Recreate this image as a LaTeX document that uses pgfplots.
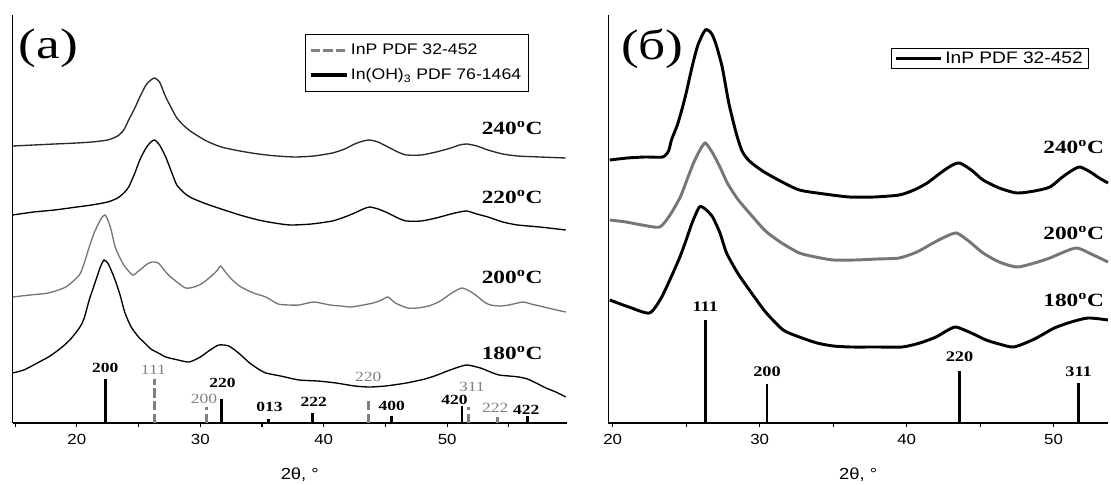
\documentclass[border=0pt]{standalone}
\usepackage{fontspec}
\setmainfont{Liberation Serif}[FakeStretch=1.25]
\setsansfont{Liberation Sans}[FakeStretch=1.15]
\usepackage{pgfplots}
\pgfplotsset{compat=1.18}
\definecolor{grayc}{RGB}{118,118,118}
\definecolor{grays}{RGB}{128,128,128}
\definecolor{dark}{RGB}{40,40,40}
\pgfplotsset{
  xrdaxis/.style={
    scale only axis, anchor=south west, clip=false,
    axis x line=bottom, axis y line=left, axis line style={-, line width=0.9pt},
    ymin=0, ymax=408, ytick=\empty,
    tick align=outside, major tick length=3pt,
    tick style={black, line width=0.8pt},
    xticklabel style={font=\sffamily\fontsize{11}{12}\selectfont, yshift=-2pt},
    xlabel style={font=\sffamily\fontsize{12}{14}\selectfont, anchor=center, yshift=-39pt},
    legend cell align=left,
  },
  curve/.style={forget plot, smooth, tension=0.4},
  stick/.style={ycomb, mark=none, line width=2.2pt},
  legimg/.style={legend image code/.code={\draw[##1, line width=2.4pt] (0pt,0pt) -- (#1,0pt);}},
}
\begin{document}
\begin{tikzpicture}
\useasboundingbox (0,0) rectangle (833.25pt,363.75pt);
% ---------------- panel (a)
\begin{axis}[xrdaxis, at={(9.5pt,46.5pt)}, width=415.7pt, height=306pt,
  xmin=14.8, xmax=59.7,
  xtick={15,20,...,55}, xticklabels={,20,,30,,40,,50,},
  xlabel={2θ, °}, xlabel style={at={(rel axis cs:0.518,0)}},
  legend style={at={(rel axis cs:0.527,0.953)}, anchor=north west,
    font=\sffamily\fontsize{11.5}{13}\selectfont, draw=black, line width=0.5pt,
    inner xsep=3pt, inner ysep=5pt, row sep=5pt},
  legimg=27pt]
% 240
\addplot[curve, dark, line width=1pt] coordinates {
(14.8,277)(16.5,278)(18.2,279)(20.0,280)(21.2,281)(22.5,283)(23.3,287)(23.8,293)(24.2,303)(24.7,315)(25.1,326)(25.6,338)(26.0,343)(26.3,345)(26.7,341)(27.2,326)(27.7,314)(28.1,305)(28.7,297)(29.3,291)(30.5,282)(31.7,276)(33.2,272)(34.7,269)(36.2,267)(37.7,266)(39.2,267)(40.7,270)(41.7,274)(42.5,279)(43.2,282)(43.7,283)(44.4,281)(45.2,276)(46.0,271)(46.7,268)(47.9,268)(49.1,271)(50.3,275)(51.0,278)(51.6,279)(52.4,277)(53.3,273)(54.5,269)(55.7,267)(57.5,266)(59.6,265)};
% 220
\addplot[curve, black, line width=1pt] coordinates {
(14.8,208)(16.5,211)(18.2,213)(20.0,216)(21.2,218)(22.5,221)(23.3,225)(23.8,230)(24.2,236)(24.7,250)(25.1,263)(25.6,275)(26.0,281)(26.3,283)(26.7,278)(27.2,266)(27.7,250)(28.1,238)(28.7,230)(29.3,225)(30.5,219)(31.7,214)(33.2,208)(34.7,203)(36.0,200)(37.3,198)(39.0,199)(40.7,202)(41.7,206)(42.5,210)(43.2,214)(43.7,216)(44.4,214)(45.2,210)(46.0,205)(46.7,202)(47.9,202)(49.1,205)(50.3,209)(51.0,211)(51.6,212)(52.4,209)(53.3,206)(54.5,201)(55.7,198)(57.5,196)(59.6,193)};
% 200
\addplot[curve, grayc, line width=1pt] coordinates {
(14.8,126)(16.2,128)(17.7,130)(19.1,136)(20.2,148)(20.6,160)(21.0,176)(21.4,190)(21.7,198)(22.0,205)(22.3,208)(22.6,200)(22.8,192)(23.1,176)(23.5,165)(23.8,158)(24.5,148)(24.9,151)(25.3,155)(25.7,159)(26.1,161)(26.6,160)(27.2,151)(27.6,146)(28.0,142)(28.8,135)(29.5,136)(30.2,140)(31.0,148)(31.4,153)(31.65,157)(32.1,150)(32.6,143)(33.3,136)(34.3,130)(35.3,126)(36.3,119)(37.2,118)(38.0,118)(39.2,121)(40.5,118)(41.4,117)(42.2,116)(43.2,118)(44.0,120)(44.7,123)(45.2,126)(45.8,120)(46.8,115)(47.6,115)(48.5,117)(49.3,121)(49.8,125)(50.5,131)(51.2,135)(51.8,132)(52.3,128)(53.0,121)(53.5,118)(54.3,117)(55.0,118)(55.7,120)(56.2,121)(56.8,119)(57.5,117)(58.5,114)(59.6,111)};
% 180
\addplot[curve, black, line width=1pt] coordinates {
(14.8,50)(15.7,53)(16.5,58)(17.1,62)(17.7,66)(18.4,72)(19.0,78)(19.5,84)(19.9,90)(20.3,97)(20.6,105)(21.0,123)(21.3,134)(21.6,145)(21.9,156)(22.2,163)(22.5,160)(22.7,155)(23.1,143)(23.5,128)(23.9,110)(24.4,96)(25.0,86)(25.5,80)(26.0,74)(26.6,70)(27.2,66)(28.2,63)(29.1,61)(30.0,66)(30.8,73)(31.5,78)(32.3,77)(33.1,70)(34.0,60)(34.7,54)(35.3,50)(36.5,47)(38.0,43)(39.5,42)(41.0,40)(42.5,37)(43.7,36)(45.0,37)(46.7,40)(48.2,44)(49.2,48)(49.8,51)(50.7,55)(51.6,58)(52.7,55)(53.5,51)(54.2,48)(55.0,47)(55.8,46)(56.5,44)(57.2,40)(58.0,35)(58.8,31)(59.6,26)};
% sticks
\addplot[stick, grays, dash pattern=on 7pt off 2.5pt] coordinates {(26.3,44)(30.5,16)(43.6,23)(51.7,16)(54.1,6)};
\addlegendentry{InP PDF 32-452}
\addplot[stick, black] coordinates {(22.3,44)(31.7,24)(35.5,4)(39.1,10)(45.5,7)(51.2,17)(56.5,7)};
\addlegendentry{In(OH)\textsubscript{3} PDF 76-1464}
% stick labels
\begin{scope}[font=\fontsize{10.5}{12}\selectfont\bfseries]
\node at (axis cs:22.3,55) {200};
\node at (axis cs:31.8,40) {220};
\node at (axis cs:35.6,16) {013};
\node at (axis cs:39.2,21) {222};
\node at (axis cs:45.5,17) {400};
\node at (axis cs:50.6,23) {420};
\node at (axis cs:56.4,13) {422};
\end{scope}
\begin{scope}[font=\fontsize{10.5}{12}\selectfont, text=grays]
\node at (axis cs:26.2,53) {111};
\node at (axis cs:30.3,24) {200};
\node at (axis cs:43.6,46) {220};
\node at (axis cs:52.0,36) {311};
\node at (axis cs:53.9,15) {222};
\end{scope}
\begin{scope}[font=\fontsize{14}{14}\selectfont\bfseries]
\node[anchor=east] at (axis cs:58.1,295) {240\textsuperscript{o}C};
\node[anchor=east] at (axis cs:58.1,226) {220\textsuperscript{o}C};
\node[anchor=east] at (axis cs:58.1,146) {200\textsuperscript{o}C};
\node[anchor=east] at (axis cs:58.1,70) {180\textsuperscript{o}C};
\end{scope}
\node[font=\fontsize{32}{32}\selectfont] at (axis cs:17.7,375) {(a)};
\end{axis}
% ---------------- panel (b)
\begin{axis}[xrdaxis, at={(456.2pt,46.5pt)}, width=374.8pt, height=306pt,
  xmin=19.7, xmax=53.7,
  xtick={20,25,...,50}, xticklabels={20,,30,,40,,50},
  xlabel={2θ, °}, xlabel style={at={(rel axis cs:0.5,0)}},
  legend style={at={(rel axis cs:0.566,0.919)}, anchor=north west,
    font=\sffamily\fontsize{12.5}{13}\selectfont, draw=black, line width=0.5pt,
    inner xsep=2pt, inner ysep=0.5pt},
  legimg=34pt]
% 240
\addplot[curve, black, line width=2.2pt] coordinates {
(19.8,263)(21.0,265)(22.2,266)(23.4,266)(23.8,272)(24.0,283)(24.4,298)(24.7,313)(25.0,330)(25.4,356)(25.8,378)(26.3,393)(26.7,390)(27.0,380)(27.45,356)(27.9,320)(28.4,290)(28.8,272)(29.3,262)(30.2,252)(31.4,242)(32.7,233)(34.4,229)(36.1,226)(37.8,226)(39.5,228)(40.5,233)(41.4,240)(42.3,250)(43.0,257)(43.6,260)(44.4,253)(45.2,243)(46.3,235)(47.5,230)(48.7,232)(49.75,236)(50.6,246)(51.3,253)(51.8,256)(52.5,251)(53.1,245)(53.7,240)};
% 200
\addplot[curve, grayc, line width=2.2pt] coordinates {
(19.8,203)(20.9,201)(22.0,198)(23.2,196)(23.9,208)(24.6,226)(25.1,245)(25.5,260)(25.9,272)(26.3,280)(26.8,270)(27.3,256)(27.8,240)(28.5,224)(29.3,210)(30.4,192)(31.5,180)(32.7,170)(33.8,166)(35.0,163)(36.5,163)(38.0,164)(39.5,165)(40.7,171)(41.8,180)(42.6,186)(43.4,190)(44.3,181)(45.2,170)(46.3,161)(47.5,156)(48.7,160)(49.75,165)(50.7,171)(51.6,175)(52.7,168)(53.7,161)};
% 180
\addplot[curve, black, line width=2.2pt] coordinates {
(19.8,123)(21.1,116)(22.5,110)(23.3,125)(24.1,150)(24.6,167)(25.0,183)(25.4,200)(25.9,216)(26.3,214)(26.8,206)(27.3,190)(27.75,170)(28.5,150)(29.3,133)(30.4,111)(31.6,93)(32.7,86)(33.9,80)(35.0,77)(36.2,76)(38.0,76)(39.7,76)(40.9,80)(42.0,86)(42.7,92)(43.35,96)(44.4,90)(45.4,83)(46.3,79)(47.3,76)(48.7,84)(50.05,95)(51.2,101)(52.35,105)(53.7,103)};
\addplot[stick, black, line width=2pt] coordinates {(26.3,103)(30.5,39)(43.6,52)(51.7,40)};
\addlegendentry{InP PDF 32-452}
\begin{scope}[font=\fontsize{11}{12}\selectfont\bfseries]
\node at (axis cs:26.3,116) {111};
\node at (axis cs:30.5,51) {200};
\node at (axis cs:43.6,66) {220};
\node at (axis cs:51.7,51) {311};
\end{scope}
\begin{scope}[font=\fontsize{14}{14}\selectfont\bfseries]
\node[anchor=east] at (axis cs:53.75,276) {240\textsuperscript{o}C};
\node[anchor=east] at (axis cs:53.75,190) {200\textsuperscript{o}C};
\node[anchor=east] at (axis cs:53.75,123) {180\textsuperscript{o}C};
\end{scope}
\node[font=\fontsize{32}{32}\selectfont] at (axis cs:22.7,374) {(б)};
\end{axis}
\end{tikzpicture}
\end{document}
